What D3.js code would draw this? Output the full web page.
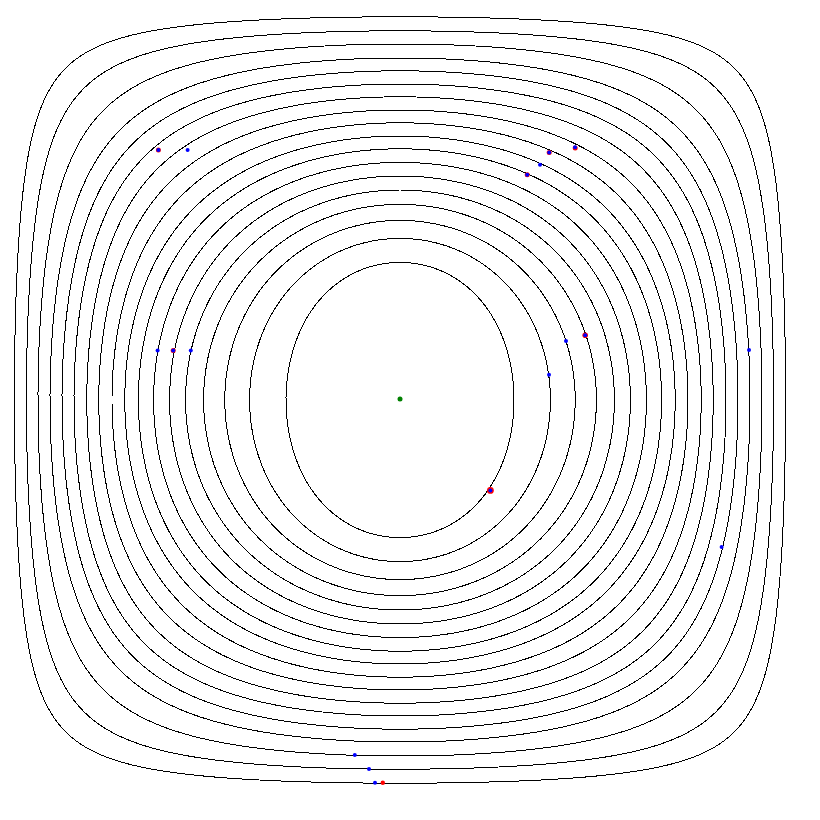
<!DOCTYPE html>
<html>
<head>
<meta charset="utf-8">
<script src="https://cdn.jsdelivr.net/npm/d3@7"></script>
<style>
  html, body { margin: 0; padding: 0; background: #fff; }
  svg { display: block; }
</style>
</head>
<body>
<script>
// ---- data (plot units: centre = 0, edge = ±1) ----
const levels      = [1, 2, 3, 4, 5, 6, 7, 8, 9, 10, 11, 12, 13, 14, 15, 16, 17, 18];
const halfWidths  = [0.285, 0.376, 0.438, 0.491, 0.536, 0.576, 0.616, 0.654, 0.688, 0.720, 0.753, 0.783, 0.815, 0.845, 0.875, 0.905, 0.934, 0.964];
const halfHeights = [0.344, 0.404, 0.449, 0.489, 0.525, 0.560, 0.594, 0.628, 0.660, 0.693, 0.725, 0.758, 0.790, 0.823, 0.855, 0.890, 0.923, 0.958];
// how far each contour bulges into the corners (0 = ellipse)
const cornerBulge = [0.10, 0.05, 0.05, 0.06, 0.10, 0.15, 0.20, 0.25, 0.30, 0.38, 0.45, 0.52, 0.57, 0.61, 0.66, 0.75, 0.84, 0.89];

const centerX = [0.0];
const centerY = [0.0025];

const blueX = [-0.531, 0.4375, 0.350, 0.373, 0.318, -0.604, -0.606, -0.567, -0.523, 0.415, 0.463, 0.3725, 0.8725, 0.804, 0.226, -0.113, -0.0775, -0.0625];
const blueY = [ 0.625, 0.632, 0.588, 0.619, 0.563, 0.625, 0.124, 0.124, 0.124, 0.1475, 0.162, 0.063, 0.125, -0.3675, -0.226, -0.8875, -0.9225, -0.957];

const redX    = [-0.604, 0.373, 0.438, 0.318, -0.567, 0.463, 0.226, -0.043];
const redY    = [ 0.625, 0.619, 0.630, 0.563, 0.124, 0.162, -0.226, -0.957];
const redSize = [2.5, 2.5, 2.5, 2.5, 2.5, 2.8, 3.4, 2.2];

// ---- drawing ----
const W = 820, H = 820;
const svg = d3.select("body").append("svg").attr("width", W).attr("height", H);

const x = d3.scaleLinear().domain([-1, 1]).range([0, 800]);
const y = d3.scaleLinear().domain([-1, 1]).range([800, 0]);

const lineGen = d3.line().x(d => x(d[0])).y(d => y(d[1])).curve(d3.curveLinearClosed);

// closed curve u^2 + v^2 - c u^2 v^2 = 1 with u = X/a, v = Y/b
function contourPoints(a, b, c) {
  const n = 480, pts = [];
  for (let i = 0; i < n; i++) {
    const t = (i / n) * 2 * Math.PI;
    const cs = Math.cos(t), sn = Math.sin(t);
    const m = c * cs * cs * sn * sn;
    const rho2 = m < 1e-9 ? 1 : (1 - Math.sqrt(1 - 4 * m)) / (2 * m);
    const rho = Math.sqrt(rho2);
    pts.push([a * rho * cs, b * rho * sn]);
  }
  return pts;
}

const contours = levels.map((lv, i) => ({ level: lv, pts: contourPoints(halfWidths[i], halfHeights[i], cornerBulge[i]) }));

svg.append("g")
  .selectAll("path")
  .data(contours)
  .join("path")
  .attr("d", d => lineGen(d.pts))
  .attr("fill", "none")
  .attr("stroke", "#000")
  .attr("stroke-width", 1)
  .attr("shape-rendering", "crispEdges");

const reds = redX.map((v, i) => ({ x: v, y: redY[i], r: redSize[i] }));
svg.append("g").selectAll("circle").data(reds).join("circle")
  .attr("cx", d => x(d.x)).attr("cy", d => y(d.y)).attr("r", d => d.r)
  .attr("fill", "#ff0000");

const blues = blueX.map((v, i) => ({ x: v, y: blueY[i] }));
svg.append("g").selectAll("circle").data(blues).join("circle")
  .attr("cx", d => x(d.x)).attr("cy", d => y(d.y)).attr("r", 2)
  .attr("fill", "#0000ff");

svg.append("g").selectAll("circle").data(centerX.map((v, i) => ({ x: v, y: centerY[i] }))).join("circle")
  .attr("cx", d => x(d.x)).attr("cy", d => y(d.y)).attr("r", 2.5)
  .attr("fill", "#008000");
</script>
</body>
</html>
